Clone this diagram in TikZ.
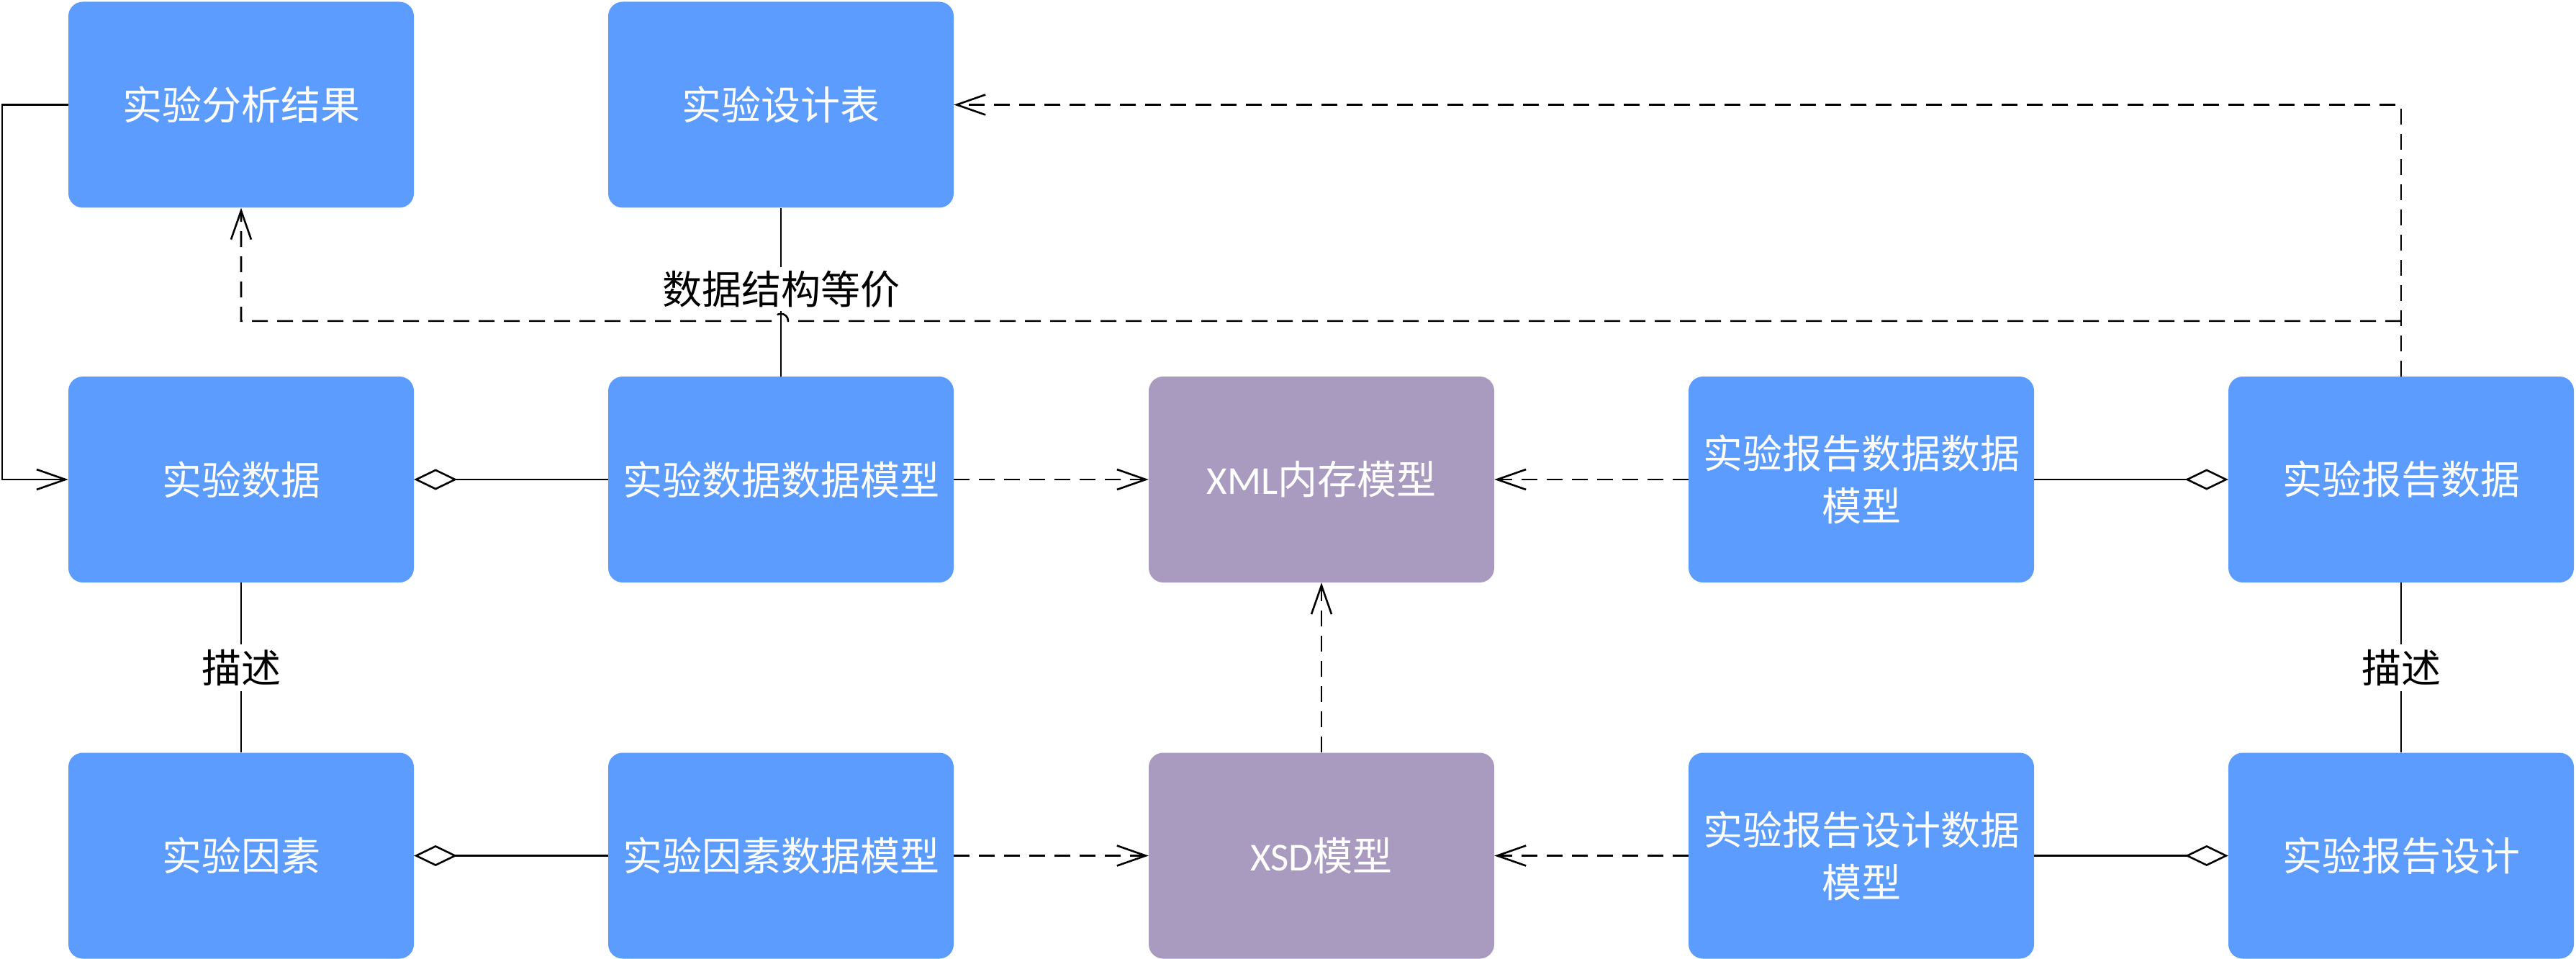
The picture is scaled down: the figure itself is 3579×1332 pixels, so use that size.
\documentclass[tikz,border=0pt]{standalone}
\usepackage{fontspec}
\setmainfont{Noto Sans CJK SC}
\newfontfamily\lat{Carlito}
\usetikzlibrary{arrows.meta,calc}
\definecolor{boxblue}{RGB}{92,156,255}
\definecolor{boxpurple}{RGB}{169,154,192}
\tikzset{
  box/.style={rectangle, rounded corners=20pt, minimum width=480pt, minimum height=286pt,
    inner sep=0pt, fill=boxblue, text=white, align=center,
    font=\fontsize{55}{73}\selectfont},
  pbox/.style={box, fill=boxpurple},
  conn/.style={line width=2.6pt, draw=black},
  dep/.style={conn, dash pattern=on 22pt off 13pt, -{Straight Barb[length=40pt,width=28pt,line width=2.6pt]}},
  solidarrow/.style={conn, -{Straight Barb[length=40pt,width=28pt,line width=2.6pt]}},
  agg/.style={conn, -{Diamond[open,length=60pt,width=29pt,line width=2.6pt]}},
  lbl/.style={fill=white, inner sep=5pt, text=black, font=\fontsize{55}{73}\selectfont}
}
\begin{document}
\begin{tikzpicture}[x=1pt,y=-1pt]
\useasboundingbox (0,0) rectangle (3579,1332);
% nodes
\node[box] (sar) at (335,145.5) {实验分析结果};
\node[box] (sjb) at (1085,145.5) {实验设计表};
\node[box] (sd) at (335,666) {实验数据};
\node[box] (sdm) at (1085,666) {实验数据数据模型};
\node[pbox] (xml) at (1836,666) {{\lat XML}内存模型};
\node[box] (brdm) at (2586,666) {实验报告数据数据\\模型};
\node[box] (brd) at (3336,666) {实验报告数据};
\node[box] (syf) at (335,1188.5) {实验因素};
\node[box] (syfm) at (1085,1188.5) {实验因素数据模型};
\node[pbox] (xsd) at (1836,1188.5) {{\lat XSD}模型};
\node[box] (brsm) at (2586,1188.5) {实验报告设计数据\\模型};
\node[box] (brs) at (3336,1188.5) {实验报告设计};
% solid loop: analysis result -> data
\draw[solidarrow] (sar.west) -- ++(-92,0) |- (sd.west);
% data structure equivalence
\draw[conn] (sjb.south) -- (sdm.north) node[lbl, midway, yshift=4pt] {数据结构等价};
% dashed from report data to design table and analysis result
\coordinate (br) at ($(brd.north)+(0,-77)$);
\draw[dep] (brd.north) -- (brd.north |- sjb.east) -- (sjb.east);
\draw[dep] (br) -- ($(sjb.south |- br)+(10,0)$) arc[start angle=0, end angle=-180, radius=10]
   -- (sar.south |- br) -- (sar.south);
% aggregations
\draw[agg] (sdm.west) -- (sd.east);
\draw[agg] (syfm.west) -- (syf.east);
\draw[agg] (brdm.east) -- (brd.west);
\draw[agg] (brsm.east) -- (brs.west);
% dependencies
\draw[dep] (sdm.east) -- (xml.west);
\draw[dep] (brdm.west) -- (xml.east);
\draw[dep] (syfm.east) -- (xsd.west);
\draw[dep] (brsm.west) -- (xsd.east);
\draw[dep] (xsd.north) -- (xml.south);
% describe
\draw[conn] (sd.south) -- (syf.north) node[lbl, midway, inner sep=7pt] {描述};
\draw[conn] (brd.south) -- (brs.north) node[lbl, midway, inner sep=7pt] {描述};
\end{tikzpicture}
\end{document}
